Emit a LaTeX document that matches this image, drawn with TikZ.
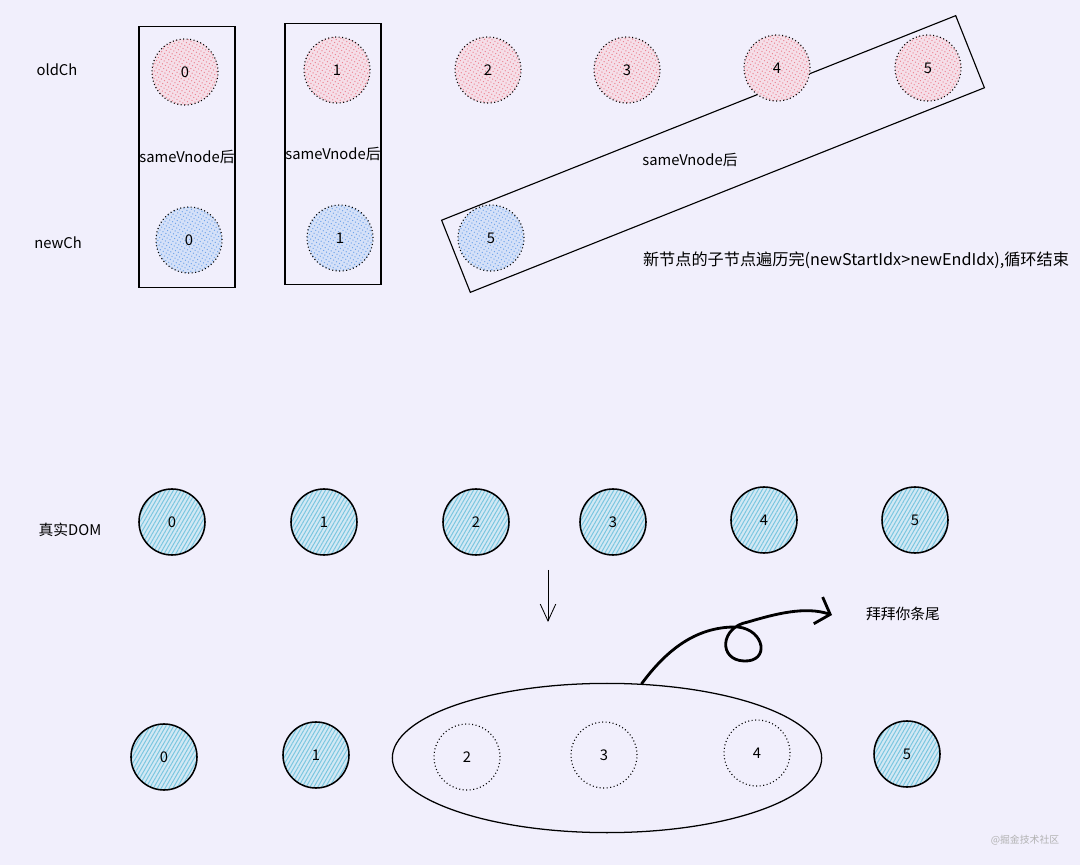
\documentclass[tikz,border=0pt]{standalone}
\usepackage{fontspec}
\setmainfont{Noto Sans CJK SC}
\usetikzlibrary{arrows.meta,patterns.meta,shapes.geometric,positioning}

\definecolor{paper}{RGB}{241,239,252}
\definecolor{oldfill}{RGB}{245,222,232}
\definecolor{oldline}{RGB}{236,132,146}
\definecolor{newfill}{RGB}{212,224,248}
\definecolor{newline}{RGB}{112,164,234}
\definecolor{domfill}{RGB}{210,232,244}
\definecolor{domline}{RGB}{122,198,224}

\begin{document}
\begin{tikzpicture}[x=0.025cm, y=-0.025cm,
        every node/.style={font=\fontsize{10.5}{12}\selectfont},
        vnode/.style={circle, inner sep=0pt, minimum size=1.65cm, draw, line width=0.8pt, dash pattern=on 0.7pt off 1.8pt},
        oldnode/.style={vnode, preaction={fill=oldfill}, pattern={Lines[angle=60,distance=2.4pt,line width=0.7pt]}, pattern color=oldline},
        newnode/.style={vnode, preaction={fill=newfill}, pattern={Lines[angle=60,distance=2.4pt,line width=0.7pt]}, pattern color=newline},
        domnode/.style={circle, inner sep=0pt, minimum size=1.65cm, draw, line width=1.1pt, preaction={fill=domfill}, pattern={Lines[angle=60,distance=2.4pt,line width=0.7pt]}, pattern color=domline},
        gone/.style={vnode, fill=none},
        pairbox/.style={rectangle, draw, line width=0.8pt, minimum width=2.4cm, minimum height=6.53cm, inner sep=0pt},
        label/.style={inner sep=1pt},
        paths/.style={-{Straight Barb[length=12pt,width=11pt]}, line width=0.6pt},
        tail/.style={-{Straight Barb[length=9pt,width=20pt,line width=2pt]}, line width=2pt, line cap=round}
    ]

        % Background
        \fill[paper] (0,0) rectangle (1080,865);
        \useasboundingbox (0,0) rectangle (1080,865);

        % Boxes
        \node[pairbox] (box0) at (187,157) {sameVnode后};
        \node[pairbox] (box1) at (333,154) {sameVnode后};
        \node[rectangle, draw, line width=0.8pt, rotate=21.7, minimum width=13.83cm, minimum height=1.94cm] (skewbox) at (713,154) {};
        \node[label] (skewtext) at (690,160) {sameVnode后};

        % Nodes: oldCh
        \node[label] (oldch) at (57,70) {oldCh};
        \node[oldnode] (o0) at (185,72) {0};
        \node[oldnode] (o1) at (337,70) {1};
        \node[oldnode] (o2) at (488,70) {2};
        \node[oldnode] (o3) at (627,70) {3};
        \node[oldnode] (o4) at (777,68) {4};
        \node[oldnode] (o5) at (928,68) {5};

        % Nodes: newCh
        \node[label] (newch) at (58,243) {newCh};
        \node[newnode] (n0) at (189,240) {0};
        \node[newnode] (n1) at (340,238) {1};
        \node[newnode] (n5) at (491,238) {5};

        \node[label, font=\fontsize{11.5}{13}\selectfont] (endnote) at (856,260) {新节点的子节点遍历完(newStartIdx>newEndIdx),循环结束};

        % Nodes: real DOM
        \node[label] (realdom) at (70,530) {真实DOM};
        \node[domnode] (d0) at (172,522) {0};
        \node[domnode] (d1) at (324,522) {1};
        \node[domnode] (d2) at (476,522) {2};
        \node[domnode] (d3) at (613,522) {3};
        \node[domnode] (d4) at (764,520) {4};
        \node[domnode] (d5) at (915,520) {5};

        % Nodes: result
        \node[domnode] (r0) at (164,757) {0};
        \node[domnode] (r1) at (316,755) {1};
        \node[gone] (r2) at (467,757) {2};
        \node[gone] (r3) at (604,755) {3};
        \node[gone] (r4) at (757,753) {4};
        \node[domnode] (r5) at (907,754) {5};
        \node[ellipse, draw, line width=0.9pt, minimum width=10.73cm, minimum height=3.73cm] (bigell) at (607,758) {};

        \node[label] (byebye) at (903,614) {拜拜你条尾};
        \node[label, text=black!30, font=\fontsize{7}{8}\selectfont] (mark) at (1025,840) {@掘金技术社区};

        % Paths
        \coordinate (downtop) at (548,570);
        \coordinate (downbot) at (548,622);
        \draw[paths] (downtop) -- (downbot);

        \coordinate (tailend) at (832,615);
        \draw[tail] (bigell.65) .. controls (668,648) and (698,626) .. (738,627)
            .. controls (765,630) and (770,662) .. (744,661)
            .. controls (718,660) and (720,627) .. (748,622)
            .. controls (775,614) and (805,606) .. (tailend);

\end{tikzpicture}
\end{document}
